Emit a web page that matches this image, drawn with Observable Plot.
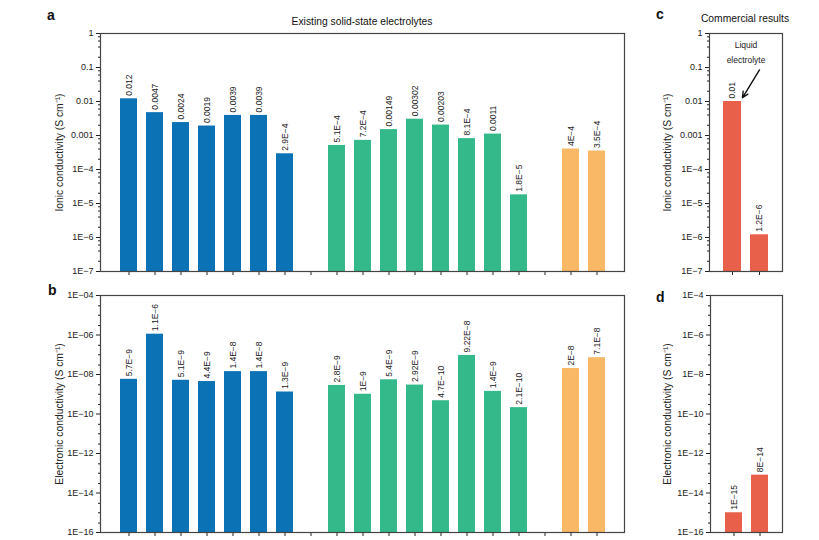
<!DOCTYPE html>
<html><head><meta charset="utf-8">
<script src="https://cdn.jsdelivr.net/npm/d3@7"></script>
<script src="https://cdn.jsdelivr.net/npm/@observablehq/plot@0.6"></script>
<style>
body{margin:0;background:#fff;font-family:"Liberation Sans",Arial,sans-serif;}
#wrap{position:relative;width:819px;height:540px;overflow:hidden;}
#wrap > svg{position:absolute;}
</style></head><body><div id="wrap"></div>
<script>
// ---- data ----
const blueIonic = [0.012, 0.0047, 0.0024, 0.0019, 0.0039, 0.0039, 2.9e-4];
const blueIonicLabels = ["0.012", "0.0047", "0.0024", "0.0019", "0.0039", "0.0039", "2.9E−4"];
const greenIonic = [5.1e-4, 7.2e-4, 0.00149, 0.00302, 0.00203, 8.1e-4, 0.0011, 1.8e-5];
const greenIonicLabels = ["5.1E−4", "7.2E−4", "0.00149", "0.00302", "0.00203", "8.1E−4", "0.0011", "1.8E−5"];
const orangeIonic = [4e-4, 3.5e-4];
const orangeIonicLabels = ["4E−4", "3.5E−4"];

const blueElec = [5.7e-9, 1.1e-6, 5.1e-9, 4.4e-9, 1.4e-8, 1.4e-8, 1.3e-9];
const blueElecLabels = ["5.7E−9", "1.1E−6", "5.1E−9", "4.4E−9", "1.4E−8", "1.4E−8", "1.3E−9"];
const greenElec = [2.8e-9, 1e-9, 5.4e-9, 2.92e-9, 4.7e-10, 9.22e-8, 1.4e-9, 2.1e-10];
const greenElecLabels = ["2.8E−9", "1E−9", "5.4E−9", "2.92E−9", "4.7E−10", "9.22E−8", "1.4E−9", "2.1E−10"];
const orangeElec = [2e-8, 7.1e-8];
const orangeElecLabels = ["2E−8", "7.1E−8"];

const commIonic = [0.01, 1.2e-6];
const commIonicLabels = ["0.01", "1.2E−6"];
const commElec = [1e-15, 8e-14];
const commElecLabels = ["1E−15", "8E−14"];

const ionicTicks = [1, 0.1, 0.01, 0.001, 1e-4, 1e-5, 1e-6, 1e-7];
const ionicTickLabels = ["1", "0.1", "0.01", "0.001", "1E−4", "1E−5", "1E−6", "1E−7"];
const elecTicks = [1e-4, 1e-6, 1e-8, 1e-10, 1e-12, 1e-14, 1e-16];
const elecTickLabelsB = ["1E−04", "1E−06", "1E−08", "1E−10", "1E−12", "1E−14", "1E−16"];
const elecTickLabelsD = ["1E−4", "1E−6", "1E−8", "1E−10", "1E−12", "1E−14", "1E−16"];

const titleA = "Existing solid-state electrolytes";
const titleC = "Commercial results";
const ionicLabel = "Ionic conductivity (S cm⁻¹)";
const elecLabel = "Electronic conductivity (S cm⁻¹)";
const annotation = ["Liquid", "electrolyte"];
// arrow annotation in data units (tail / aim point on the ionic axis)
const arrowTailY = 0.085;
const arrowAimY = 0.0043;

const colors = {blue: "#0a72b5", green: "#33b98a", orange: "#f8b865", comm: "#e8604a"};

// ---- build tables ----
function groupRows(prefix, vals, labels, color) {
  return vals.map((v, i) => ({id: prefix + i, v, label: labels[i], color}));
}
const blueIds = blueIonic.map((_, i) => "b" + i);
const greenIds = greenIonic.map((_, i) => "g" + i);
const orangeIds = orangeIonic.map((_, i) => "o" + i);
const mainDomain = [...blueIds, "gap1", ...greenIds, "gap2", ...orangeIds];
const commDomain = ["c0", "c1"];

const ionicRows = [
  ...groupRows("b", blueIonic, blueIonicLabels, colors.blue),
  ...groupRows("g", greenIonic, greenIonicLabels, colors.green),
  ...groupRows("o", orangeIonic, orangeIonicLabels, colors.orange)
];
const elecRows = [
  ...groupRows("b", blueElec, blueElecLabels, colors.blue),
  ...groupRows("g", greenElec, greenElecLabels, colors.green),
  ...groupRows("o", orangeElec, orangeElecLabels, colors.orange)
];
const commIonicRows = groupRows("c", commIonic, commIonicLabels, colors.comm);
const commElecRows = groupRows("c", commElec, commElecLabels, colors.comm);

function minorTicks(lo, hi, mults) {
  const out = [];
  for (let e = Math.round(Math.log10(lo)); e < Math.round(Math.log10(hi)); e++) {
    for (const m of mults) out.push(m * Math.pow(10, e));
  }
  return out;
}
function oddDecades(lo, hi) {
  const out = [];
  for (let e = Math.round(Math.log10(lo)) + 1; e < Math.round(Math.log10(hi)); e += 2) out.push(Math.pow(10, e));
  return out;
}

function panel(o) {
  return Plot.plot({
    width: o.width, height: o.height,
    marginLeft: o.ml, marginRight: o.mr, marginTop: o.mt, marginBottom: o.mb,
    style: {fontFamily: "'Liberation Sans', Arial, sans-serif", fontSize: "9px", color: "#222", background: "white"},
    color: {type: "identity"},
    x: {type: "band", domain: o.domain, paddingInner: o.pi, paddingOuter: o.po, axis: null},
    y: {type: "log", domain: o.yDomain, axis: null},
    marks: [
      Plot.barY(o.rows, {x: "id", y1: o.yDomain[0], y2: "v", fill: "color"}),
      Plot.text(o.rows, {x: "id", y: "v", text: "label", rotate: -90, textAnchor: "start", dy: -3, fontSize: 8.5, fill: "#222"}),
      Plot.axisX({tickSize: 4, tickFormat: () => "", label: null, stroke: "#222"}),
      Plot.axisY({ticks: o.yTicks, tickFormat: d => o.yTickLabels[o.yTicks.indexOf(d)], tickSize: 4, tickPadding: 3,
        label: null, fontSize: 9}),
      Plot.axisY({ticks: o.minor, tickFormat: () => "", tickSize: 2, label: null}),
      Plot.text([o.label], {frameAnchor: "left", rotate: -90, textAnchor: "middle", lineAnchor: "top",
        dx: -o.labelOffset, fontSize: 10.3, fill: "#222"}),
      Plot.frame({stroke: "#444", strokeWidth: 1.2}),
      ...(o.extra || [])
    ]
  });
}

const wrap = document.getElementById("wrap");
function place(svg, left, top) {
  svg.style.left = left + "px";
  svg.style.top = top + "px";
  wrap.appendChild(svg);
}

const ionicMinor = minorTicks(1e-7, 1, [2, 4, 6, 8]);
const elecMinor = [...oddDecades(1e-16, 1e-4), ...minorTicks(1e-16, 1e-4, [3])];

place(panel({
  width: 640, height: 280, ml: 100, mr: 16, mt: 33, mb: 9,
  domain: mainDomain, pi: 0.36, po: 0.62, rows: ionicRows,
  yDomain: [1e-7, 1], yTicks: ionicTicks, yTickLabels: ionicTickLabels, minor: ionicMinor,
  label: ionicLabel, labelOffset: 45
}), 0, 0);

place(panel({
  width: 640, height: 260, ml: 100, mr: 16, mt: 15, mb: 8,
  domain: mainDomain, pi: 0.36, po: 0.62, rows: elecRows,
  yDomain: [1e-16, 1e-4], yTicks: elecTicks, yTickLabels: elecTickLabelsB, minor: elecMinor,
  label: elecLabel, labelOffset: 45
}), 0, 280);

place(panel({
  width: 179, height: 280, ml: 69, mr: 37, mt: 33, mb: 9,
  domain: commDomain, pi: 0.35, po: 0.525, rows: commIonicRows,
  yDomain: [1e-7, 1], yTicks: ionicTicks, yTickLabels: ionicTickLabels, minor: ionicMinor,
  label: ionicLabel, labelOffset: 46,
  extra: [
    Plot.text([annotation.join("\n")], {frameAnchor: "top", lineAnchor: "top", dy: 4, lineHeight: 1.75, fontSize: 8.5, fill: "#222"}),
    Plot.arrow([commDomain], {x1: d => d[1], y1: arrowTailY, x2: d => d[0], y2: arrowAimY,
      insetEnd: 19, stroke: "#111", strokeWidth: 1.4, headLength: 7, headAngle: 50})
  ]
}), 640, 0);

place(panel({
  width: 179, height: 260, ml: 70, mr: 37, mt: 15, mb: 8,
  domain: commDomain, pi: 0.35, po: 0.525, rows: commElecRows,
  yDomain: [1e-16, 1e-4], yTicks: elecTicks, yTickLabels: elecTickLabelsD, minor: elecMinor,
  label: elecLabel, labelOffset: 47
}), 640, 280);

// overlay texts (panel letters and titles)
const ns = "http://www.w3.org/2000/svg";
const ov = document.createElementNS(ns, "svg");
ov.setAttribute("width", 819); ov.setAttribute("height", 540);
ov.style.left = "0px"; ov.style.top = "0px"; ov.style.pointerEvents = "none";
const texts = [
  {t: "a", x: 47, y: 20, s: 14, w: "bold", a: "start"},
  {t: "b", x: 48, y: 295, s: 14, w: "bold", a: "start"},
  {t: "c", x: 656, y: 19, s: 14, w: "bold", a: "start"},
  {t: "d", x: 656, y: 302, s: 14, w: "bold", a: "start"},
  {t: titleA, x: 362, y: 25, s: 10.3, w: "normal", a: "middle"},
  {t: titleC, x: 745, y: 22, s: 10.3, w: "normal", a: "middle"}
];
for (const d of texts) {
  const el = document.createElementNS(ns, "text");
  el.setAttribute("x", d.x); el.setAttribute("y", d.y);
  el.setAttribute("font-size", d.s); el.setAttribute("font-weight", d.w);
  el.setAttribute("text-anchor", d.a);
  el.setAttribute("font-family", "'Liberation Sans', Arial, sans-serif");
  el.setAttribute("fill", "#111");
  el.textContent = d.t;
  ov.appendChild(el);
}
wrap.appendChild(ov);
</script>
</body></html>
